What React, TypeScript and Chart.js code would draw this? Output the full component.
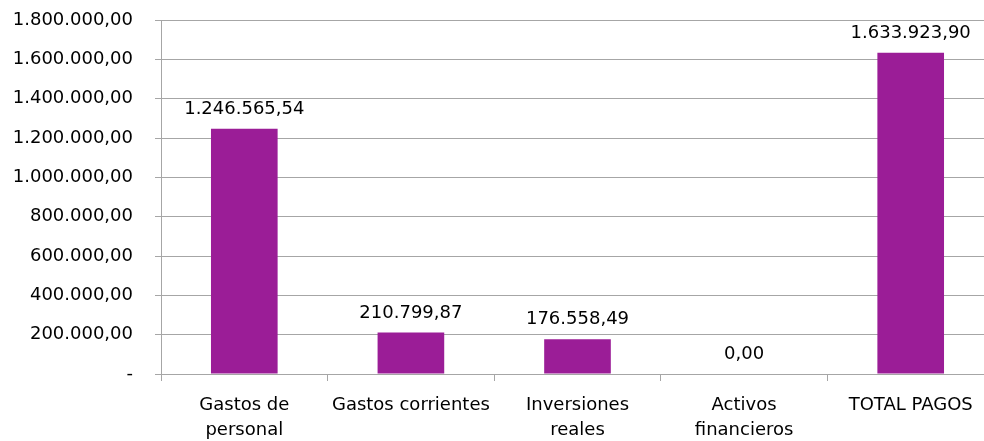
import React, { useEffect, useRef } from "react";
import { Chart, registerables } from "chart.js";

Chart.register(...registerables);

const categories: (string | string[])[] = [
  ["Gastos de", "personal"],
  "Gastos corrientes",
  ["Inversiones", "reales"],
  ["Activos", "financieros"],
  "TOTAL PAGOS",
];
const values: number[] = [1246565.54, 210799.87, 176558.49, 0, 1633923.9];
const yMax = 1800000;
const yStep = 200000;

const BAR_COLOR = "#9B1D97";
const GRID_COLOR = "#A6A6A6";
const FONT = "'DejaVu Sans', Verdana, sans-serif";
const FONT_SIZE = 18;

function fmt(v: number): string {
  const neg = v < 0;
  const fixed = Math.abs(v).toFixed(2);
  const [intPart, dec] = fixed.split(".");
  const grouped = intPart.replace(/\B(?=(\d{3})+(?!\d))/g, ".");
  return (neg ? "-" : "") + grouped + "," + dec;
}

const dataLabels = {
  id: "dataLabels",
  afterDatasetsDraw(chart: any) {
    const ctx = chart.ctx;
    const meta = chart.getDatasetMeta(0);
    ctx.save();
    ctx.font = `${FONT_SIZE}px ${FONT}`;
    ctx.fillStyle = "#000";
    ctx.textAlign = "center";
    ctx.textBaseline = "alphabetic";
    meta.data.forEach((bar: any, i: number) => {
      ctx.fillText(fmt(values[i]), bar.x, bar.y - 15);
    });
    ctx.restore();
  },
};

export default function App() {
  const ref = useRef<HTMLCanvasElement | null>(null);
  useEffect(() => {
    document.body.style.margin = "0";
    const canvas = ref.current!;
    const chart = new Chart(canvas, {
      type: "bar",
      data: {
        labels: categories,
        datasets: [
          {
            data: values,
            backgroundColor: BAR_COLOR,
            barPercentage: 0.4,
            categoryPercentage: 1,
          },
        ],
      },
      options: {
        responsive: false,
        animation: false,
        devicePixelRatio: 1,
        layout: { padding: { left: 0, right: 6, top: 20, bottom: 0 } },
        plugins: {
          legend: { display: false },
          tooltip: { enabled: false },
        },
        scales: {
          x: {
            grid: {
              display: true,
              drawOnChartArea: false,
              drawTicks: true,
              tickLength: 7,
              color: GRID_COLOR,
              offset: true,
            },
            border: { color: GRID_COLOR, width: 1 },
            ticks: {
              color: "#000",
              font: { family: FONT, size: FONT_SIZE, lineHeight: 1.39 },
              padding: 12,
              maxRotation: 0,
              autoSkip: false,
            },
            afterFit(scale: any) {
              scale.height = 67;
              scale.paddingLeft = 0;
              scale.paddingRight = 0;
            },
          },
          y: {
            min: 0,
            max: yMax,
            grid: { color: GRID_COLOR, tickLength: 6, lineWidth: 1 },
            border: { color: GRID_COLOR, width: 1 },
            ticks: {
              stepSize: yStep,
              color: "#000",
              font: { family: FONT, size: FONT_SIZE },
              padding: 22,
              callback: (v: any) => (Number(v) === 0 ? "-" : fmt(Number(v))),
            },
            afterFit(scale: any) {
              scale.width = 161;
              scale.paddingTop = 0;
              scale.paddingBottom = 0;
            },
          },
        },
      },
      plugins: [dataLabels],
    });
    return () => chart.destroy();
  }, []);
  return (
    <div
      style={{
        position: "absolute",
        left: 0,
        top: 0,
        width: 984,
        height: 441,
        overflow: "hidden",
        background: "#fff",
      }}
    >
      <canvas ref={ref} width={1000} height={441} style={{ width: 1000, height: 441 }} />
    </div>
  );
}
